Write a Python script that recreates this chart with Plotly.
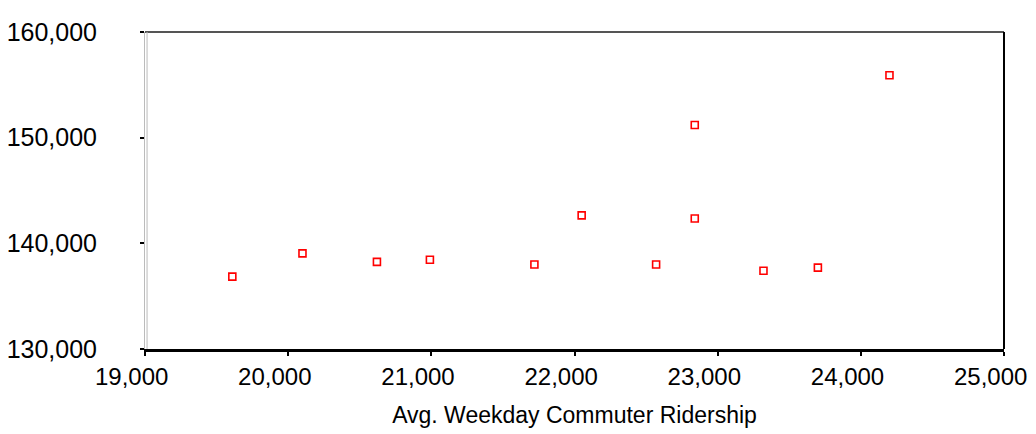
import plotly.graph_objects as go

# Data
ridership = [19610, 20100, 20620, 20990, 21720, 22050, 22570, 22840, 22840, 23320, 23700, 24200]
population = [136850, 139050, 138250, 138450, 138000, 142650, 138000, 151200, 142350, 137400, 137700, 155900]

x_ticks = [19000, 20000, 21000, 22000, 23000, 24000, 25000]
y_ticks = [130000, 140000, 150000, 160000]

FONT = "Liberation Sans, Arial, sans-serif"

# labels sit slightly left of their ticks in the reference: pad with invisible glyphs
PAD = "<span style='color:rgba(0,0,0,0)'>00</span>"
x_text = [f"{v:,}{PAD}" for v in x_ticks]

fig = go.Figure()
fig.add_trace(go.Scatter(
    x=ridership, y=population, mode="markers",
    marker=dict(symbol="square-open", size=7, color="#ff0000",
                line=dict(color="#ff0000", width=1.6)),
    showlegend=False, hoverinfo="x+y",
))

# the page body adds an 8px offset, compensated in the margins
fig.update_layout(
    width=1036, height=434,
    margin=dict(l=137, r=40, t=24, b=93),
    paper_bgcolor="white", plot_bgcolor="white",
    font=dict(family=FONT, color="black", size=24),
    xaxis=dict(
        range=[19000, 25000], tickvals=x_ticks, ticktext=x_text,
        showgrid=False, zeroline=False, automargin=False,
        showline=True, linecolor="black", linewidth=3,
        ticks="outside", ticklen=4, tickwidth=2, tickcolor="black",
        ticklabelstandoff=0, ticklabeloverflow="allow",
        tickfont=dict(family=FONT, size=24),
        title=dict(text="Avg. Weekday Commuter Ridership",
                   font=dict(family=FONT, size=23), standoff=19),
    ),
    yaxis=dict(
        range=[130000, 160000], tickvals=y_ticks, tickformat=",d",
        showgrid=False, zeroline=False, automargin=False,
        showline=True, linecolor="#bbbbbb", linewidth=1,
        ticks="outside", ticklen=4, tickwidth=2, tickcolor="black",
        ticklabelstandoff=38, ticklabeloverflow="allow",
        tickfont=dict(family=FONT, size=25),
    ),
    shapes=[
        dict(type="line", xref="paper", yref="paper", x0=0, x1=1, y0=1, y1=1,
             line=dict(color="#555555", width=2)),
        dict(type="line", xref="paper", yref="paper", x0=1, x1=1, y0=0, y1=1,
             line=dict(color="black", width=2)),
        dict(type="line", xref="paper", yref="paper", x0=0.0024, x1=0.0024, y0=0, y1=1,
             line=dict(color="#bbbbbb", width=1)),
    ],
)

fig.write_html("out.html")
